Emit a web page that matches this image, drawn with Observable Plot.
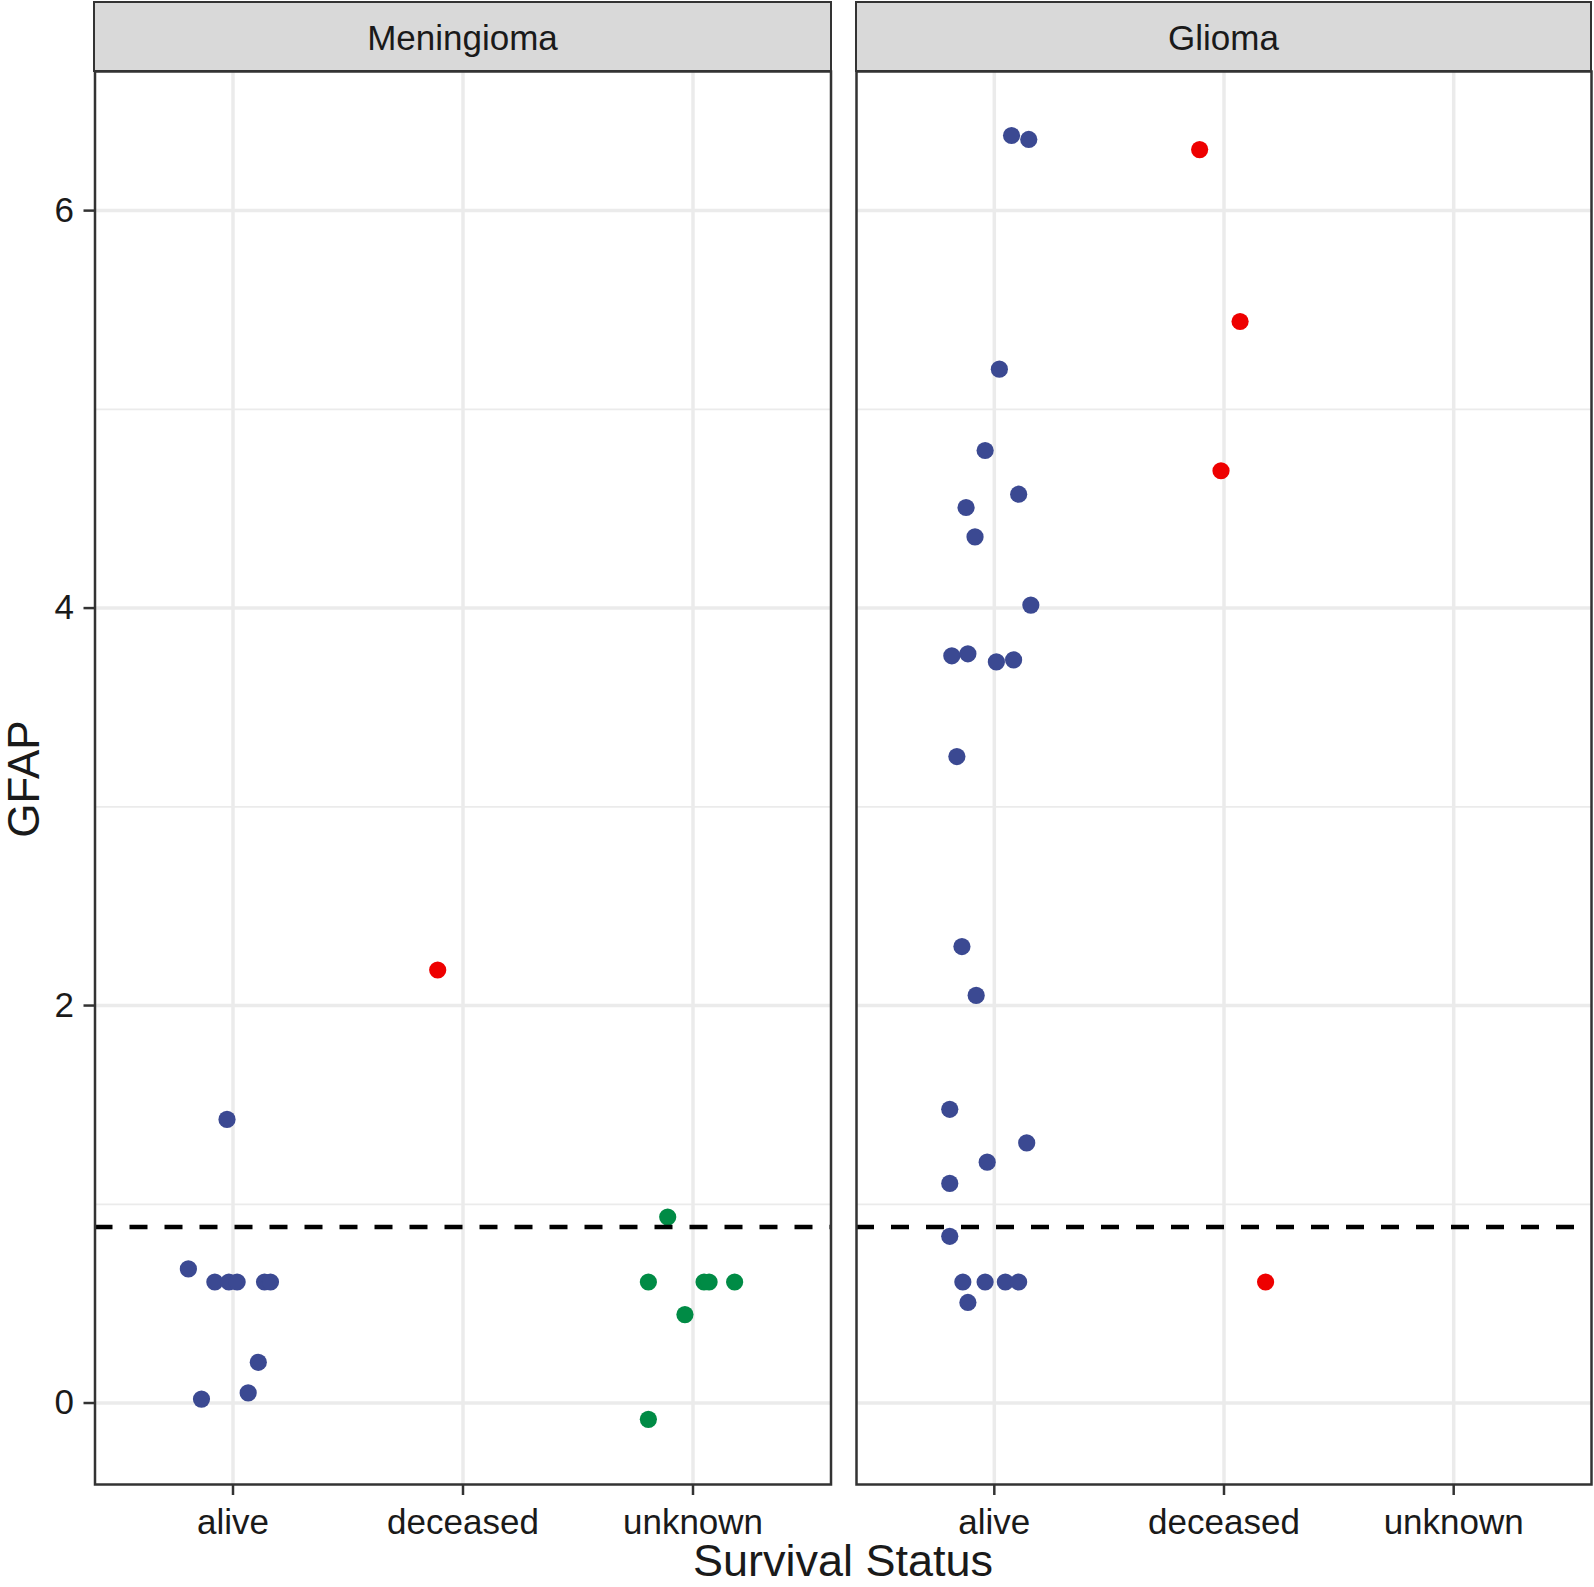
<!DOCTYPE html>
<html><head><meta charset="utf-8">
<script src="https://cdn.jsdelivr.net/npm/d3@7"></script>
<script src="https://cdn.jsdelivr.net/npm/@observablehq/plot@0.6"></script>
<style>
html,body{margin:0;padding:0;background:#fff;}
#wrap{position:relative;width:1594px;height:1587px;overflow:hidden;background:#fff;font-family:"Liberation Sans",Arial,sans-serif;color:#1a1a1a;}
#wrap svg{position:absolute;top:0;}
.strip{position:absolute;top:1px;height:71px;box-sizing:border-box;border:2.5px solid #333;background:#D9D9D9;display:flex;align-items:center;justify-content:center;font-size:35px;color:#1a1a1a;padding-top:2px;}
.xtitle{position:absolute;left:843px;top:1543px;transform:translateX(-50%);font-size:45px;line-height:36px;white-space:nowrap;}
.ytitle{position:absolute;left:24px;top:779px;transform:translate(-50%,-50%) rotate(-90deg);font-size:44px;line-height:34px;white-space:nowrap;}
</style></head>
<body>
<div id="wrap"></div>
<script>
// ---- data ----
const categories = ["alive", "deceased", "unknown"];
const tumorTypes = ["Meningioma", "Glioma"];
const statusColors = ["#3B4992", "#EE0000", "#008B45"];
const yTicks = [0, 2, 4, 6];
const yMinorTicks = [1, 3, 5];
const cutoff = 0.886;
const xAxisTitle = "Survival Status";
const yAxisTitle = "GFAP";

// [jitter offset from category, GFAP value]
const meningiomaAlive = [[-0.026,1.427],[-0.194,0.675],[-0.079,0.609],[-0.018,0.609],[0.018,0.609],[0.137,0.609],[0.163,0.609],[0.110,0.205],[-0.137,0.020],[0.066,0.051]];
const meningiomaDeceased = [[-0.110,2.179]];
const meningiomaUnknown = [[-0.110,0.936],[-0.194,0.609],[0.048,0.609],[0.070,0.609],[0.181,0.609],[-0.035,0.445],[-0.194,-0.082]];
const gliomaAlive = [[0.075,6.378],[0.150,6.358],[0.022,5.202],[-0.040,4.793],[-0.123,4.506],[0.106,4.573],[-0.084,4.358],[0.159,4.015],[-0.185,3.760],[-0.115,3.770],[0.009,3.729],[0.084,3.739],[-0.163,3.253],[-0.141,2.297],[-0.079,2.051],[-0.194,1.478],[0.141,1.309],[-0.031,1.212],[-0.194,1.105],[-0.194,0.839],[-0.137,0.609],[-0.040,0.609],[0.048,0.609],[0.106,0.609],[-0.115,0.506]];
const gliomaDeceased = [[-0.106,6.307],[0.070,5.442],[-0.013,4.691],[0.181,0.609]];
const gliomaUnknown = [];

function rows(groups) {
  const out = [];
  groups.forEach((g, i) => g.forEach(([j, v]) => out.push({status: categories[i], x: i + 1 + j, y: v})));
  return out;
}
const panels = [
  rows([meningiomaAlive, meningiomaDeceased, meningiomaUnknown]),
  rows([gliomaAlive, gliomaDeceased, gliomaUnknown])
];

const font = "'Liberation Sans', Arial, sans-serif";
function panelPlot(points, withY, layout) {
  const marks = [
    Plot.ruleY(yMinorTicks, {stroke: "#EBEBEB", strokeWidth: 1.8}),
    Plot.ruleY(yTicks, {stroke: "#EBEBEB", strokeWidth: 3.5}),
    Plot.ruleX([1, 2, 3], {stroke: "#EBEBEB", strokeWidth: 3.5}),
    Plot.dot(points, {x: "x", y: "y", fill: "status", r: 8.6}),
    Plot.ruleY([cutoff], {stroke: "#000", strokeWidth: 4.5, strokeDasharray: "18,17"}),
    Plot.frame({stroke: "#333", strokeWidth: 2.5}),
    Plot.axisX({ticks: [1, 2, 3], tickFormat: d => categories[d - 1], tickSize: 11, tickPadding: 14, fontSize: 35, strokeWidth: 2.5, stroke: "#333", label: null})
  ];
  if (withY) marks.push(Plot.axisY({ticks: yTicks, tickSize: 11, tickPadding: 10, fontSize: 35, strokeWidth: 2.5, stroke: "#333", label: null}));
  return Plot.plot({
    width: layout.width, height: 1545,
    marginLeft: layout.ml, marginRight: layout.mr, marginTop: 71, marginBottom: 61,
    x: {domain: [0.4, 3.6], axis: null},
    y: {domain: [-0.41, 6.70], axis: null},
    color: {domain: categories, range: statusColors},
    style: {fontFamily: font, color: "#1a1a1a", background: "transparent", overflow: "visible"},
    marks
  });
}

const wrap = document.getElementById("wrap");
const layouts = [{left: 0, width: 832, ml: 94.5, mr: 1.5}, {left: 854, width: 740, ml: 2, mr: 3}];
panels.forEach((pts, i) => {
  const svg = panelPlot(pts, i === 0, layouts[i]);
  svg.style.left = layouts[i].left + "px";
  wrap.appendChild(svg);
});
// strips
const stripBoxes = [{left: 93.25, width: 738.5}, {left: 854.75, width: 737.5}];
tumorTypes.forEach((t, i) => {
  const d = document.createElement("div");
  d.className = "strip";
  d.style.left = stripBoxes[i].left + "px";
  d.style.width = stripBoxes[i].width + "px";
  d.textContent = t;
  wrap.appendChild(d);
});
const xt = document.createElement("div"); xt.className = "xtitle"; xt.textContent = xAxisTitle; wrap.appendChild(xt);
const yt = document.createElement("div"); yt.className = "ytitle"; yt.textContent = yAxisTitle; wrap.appendChild(yt);
</script>
</body></html>
